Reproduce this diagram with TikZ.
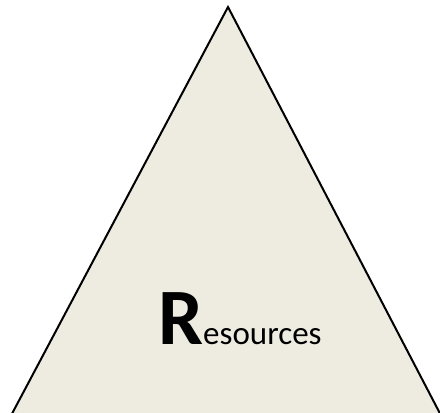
\documentclass[tikz,border=0pt]{standalone}
\usepackage{fontspec}
\setmainfont{Carlito}
\definecolor{tribg}{HTML}{EEECE1}
\tikzset{tri/.style={fill=tribg,draw=black,line width=2pt,line join=miter}}
\begin{document}
\begin{tikzpicture}[x=1pt,y=1pt]
\useasboundingbox (0,0) rectangle (440,413);
\clip (0,0) rectangle (440,413);
\draw[tri] (228,406) -- (446,-12) -- (6,-12) -- cycle;
\node[anchor=base west,inner sep=0pt] (lbl) at (158,68)
  {\fontsize{80}{80}\selectfont\bfseries R\fontsize{33}{33}\selectfont\mdseries esources};
\end{tikzpicture}
\end{document}
